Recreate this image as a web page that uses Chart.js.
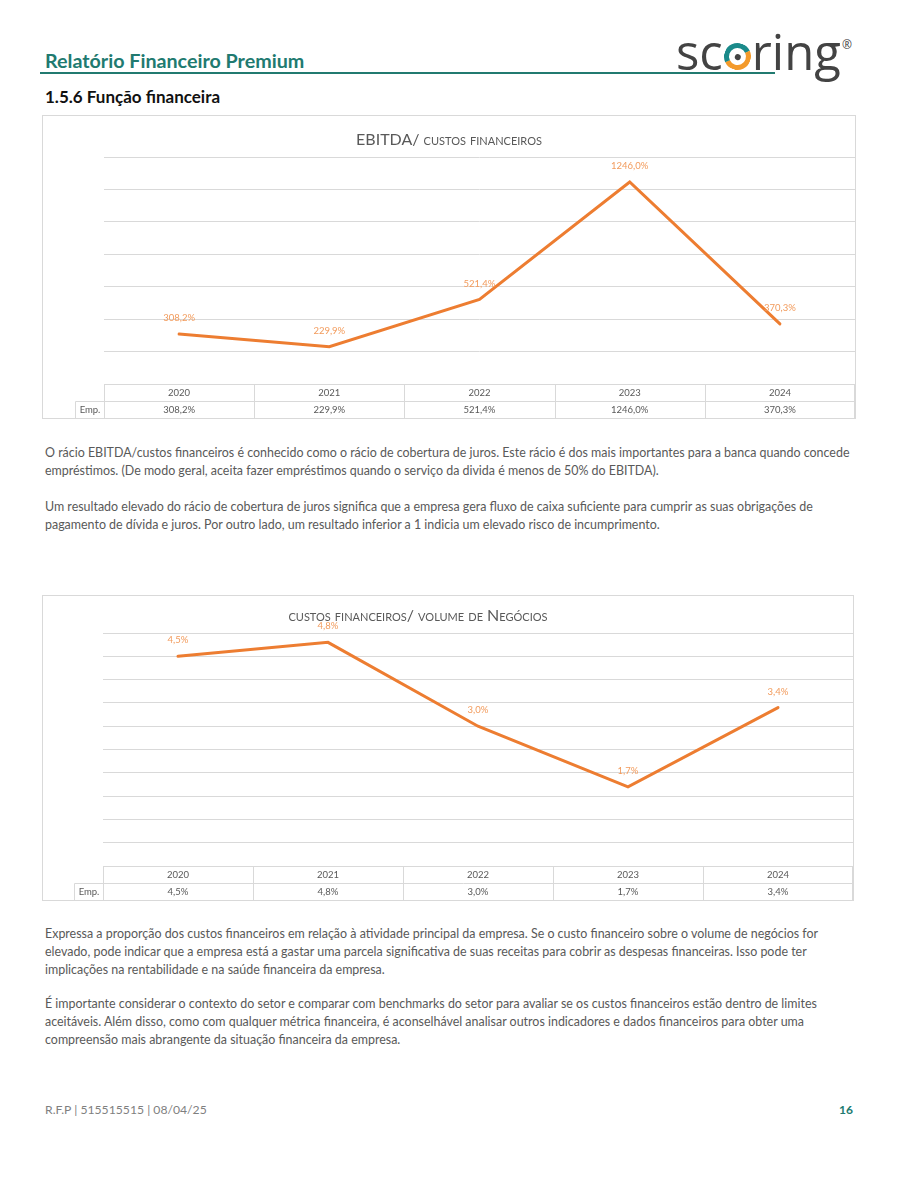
<!DOCTYPE html>
<html lang="pt">
<head>
<meta charset="utf-8">
<title>Relatório Financeiro Premium - 1.5.6 Função financeira</title>
<script src="https://cdn.jsdelivr.net/npm/chart.js@4.4.1/dist/chart.umd.min.js"></script>
<style>
  body{margin:0;background:#fff;font-family:Lato,"Open Sans",sans-serif;}
  .page{position:relative;width:900px;height:1200px;overflow:hidden;}
  .hdr{position:absolute;left:45px;top:51px;font-size:19.7px;line-height:20px;font-weight:700;color:#217a70;white-space:nowrap;}
  .rule{position:absolute;left:40px;top:72px;width:735px;height:2px;background:#217a70;}
  .logo{position:absolute;left:676px;top:25px;font-family:"Open Sans",sans-serif;font-size:49px;line-height:52px;color:#434343;white-space:nowrap;}
  .logo .ring{display:inline-block;position:relative;width:27px;height:27px;box-sizing:border-box;border:5px solid;border-radius:50%;
    border-color:#1a8a8a #f39a2b #f39a2b #1a8a8a;transform:rotate(20deg);margin:0 1px;}
  .logo .ring i{position:absolute;left:50%;top:50%;width:6px;height:6px;margin:-3px 0 0 -3px;border-radius:50%;background:#434343;}
  .logo sup{font-size:12px;position:absolute;top:-6px;right:-11px;}
  .sec{position:absolute;left:45px;top:87px;font-size:17px;line-height:20px;font-weight:700;color:#111;white-space:nowrap;}
  .box{position:absolute;box-sizing:border-box;border:1px solid #d9d9d9;}
  .box .cw{position:absolute;left:0;top:0;right:0;bottom:0;}
  .ctitle{position:absolute;font-size:16px;line-height:20px;color:#595959;font-variant:small-caps;text-align:center;white-space:nowrap;}
  .txt{position:absolute;left:45px;font-size:12.45px;line-height:18px;color:#595959;white-space:nowrap;}
  .foot{position:absolute;left:45px;top:1102px;font-size:12.2px;line-height:16px;color:#7f7f7f;white-space:nowrap;}
  .pg{position:absolute;right:47px;top:1102px;font-size:12px;line-height:16px;font-weight:700;color:#217a70;}
</style>
</head>
<body>
<div class="page">
  <div class="hdr">Relatório Financeiro Premium</div>
  <div class="rule"></div>
  <div class="logo">sc<span class="ring"><i></i></span>ring<sup>®</sup></div>
  <div class="sec">1.5.6 Função financeira</div>

  <div class="box" style="left:42px;top:115px;width:814px;height:304px;">
    <div class="cw"><canvas id="chart-ebitda"></canvas></div>
    <div class="ctitle" style="left:0;right:0;top:13px;">EBITDA/ custos financeiros</div>
  </div>

  <div class="txt" style="top:444px;">O rácio EBITDA/custos financeiros é conhecido como o rácio de cobertura de juros. Este rácio é dos mais importantes para a banca quando concede<br>empréstimos. (De modo geral, aceita fazer empréstimos quando o serviço da divida é menos de 50% do EBITDA).</div>
  <div class="txt" style="top:498px;">Um resultado elevado do rácio de cobertura de juros significa que a empresa gera fluxo de caixa suficiente para cumprir as suas obrigações de<br>pagamento de dívida e juros. Por outro lado, um resultado inferior a 1 indicia um elevado risco de incumprimento.</div>

  <div class="box" style="left:42px;top:595px;width:812px;height:306px;">
    <div class="cw"><canvas id="chart-costs"></canvas></div>
    <div class="ctitle" style="left:0;width:750px;top:9px;">custos financeiros/ volume de Negócios</div>
  </div>

  <div class="txt" style="top:925px;">Expressa a proporção dos custos financeiros em relação à atividade principal da empresa. Se o custo financeiro sobre o volume de negócios for<br>elevado, pode indicar que a empresa está a gastar uma parcela significativa de suas receitas para cobrir as despesas financeiras. Isso pode ter<br>implicações na rentabilidade e na saúde financeira da empresa.</div>
  <div class="txt" style="top:995px;">É importante considerar o contexto do setor e comparar com benchmarks do setor para avaliar se os custos financeiros estão dentro de limites<br>aceitáveis. Além disso, como com qualquer métrica financeira, é aconselhável analisar outros indicadores e dados financeiros para obter uma<br>compreensão mais abrangente da situação financeira da empresa.</div>

  <div class="foot">R.F.P | 515515515 | 08/04/25</div>
  <div class="pg">16</div>
</div>

<script>
const YEARS = ['2020','2021','2022','2023','2024'];
const ROW_LABEL = 'Emp.';
const EBITDA_COVER = [308.2, 229.9, 521.4, 1246.0, 370.3];   // EBITDA / custos financeiros (%)
const COST_TO_SALES = [4.5, 4.8, 3.0, 1.7, 3.4];              // custos financeiros / volume de negócios (%)
const Y_EBITDA = [0, 1400, 200];   // min, max, passo
const Y_COSTS = [0, 5, 0.5];

const LINE_COLOR = '#ED7D31', LABEL_COLOR = '#F29B5C', GRID = '#d9d9d9', TXT = '#595959';
const pct = v => v.toFixed(1).replace('.', ',') + '%';

// rótulos de dados por cima de cada ponto
const pointLabels = {
  id: 'pointLabels',
  afterDatasetsDraw(chart) {
    const {ctx} = chart;
    const vals = chart.data.datasets[0].data;
    ctx.save();
    ctx.font = '9.5px Lato, sans-serif';
    ctx.fillStyle = LABEL_COLOR;
    ctx.textAlign = 'center';
    ctx.textBaseline = 'middle';
    chart.getDatasetMeta(0).data.forEach((pt, i) => ctx.fillText(pct(vals[i]), pt.x, pt.y - 16));
    ctx.restore();
  }
};

// tabela de dados (estilo Excel) por baixo do eixo
const dataTable = {
  id: 'dataTable',
  afterDraw(chart, args, opts) {
    const {ctx, chartArea: a, scales: {x}} = chart;
    const n = chart.data.labels.length, step = (a.right - a.left) / n;
    const top = Math.round(a.bottom) + 0.5, rh = opts.rowH, labL = Math.round(a.left - opts.labelW) + 0.5;
    const L = Math.round(a.left) + 0.5, R = Math.round(a.right) - 0.5;
    ctx.save();
    ctx.strokeStyle = GRID; ctx.lineWidth = 1;
    ctx.beginPath();
    ctx.moveTo(L, top); ctx.lineTo(R, top);
    ctx.moveTo(labL, top + rh); ctx.lineTo(R, top + rh);
    ctx.moveTo(labL, top + 2 * rh); ctx.lineTo(R, top + 2 * rh);
    ctx.moveTo(labL, top + rh); ctx.lineTo(labL, top + 2 * rh);
    for (let i = 0; i <= n; i++) {
      const xx = i === n ? R : Math.round(a.left + i * step) + 0.5;
      ctx.moveTo(xx, top); ctx.lineTo(xx, top + 2 * rh);
    }
    ctx.stroke();
    ctx.font = '9.5px Lato, sans-serif';
    ctx.fillStyle = TXT; ctx.textAlign = 'center'; ctx.textBaseline = 'middle';
    const vals = chart.data.datasets[0].data;
    chart.data.labels.forEach((lab, i) => {
      const cx = x.getPixelForValue(i);
      ctx.fillText(lab, cx, top + rh / 2);
      ctx.fillText(pct(vals[i]), cx, top + rh * 1.5);
    });
    ctx.fillText(chart.data.datasets[0].label, (labL + L) / 2, top + rh * 1.5);
    ctx.restore();
  }
};

function lineChart(id, values, yr, pad) {
  return new Chart(document.getElementById(id), {
    type: 'line',
    data: {labels: YEARS, datasets: [{label: ROW_LABEL, data: values, borderColor: LINE_COLOR, borderWidth: 3,
      pointRadius: 0, tension: 0, fill: false, borderCapStyle: 'round', borderJoinStyle: 'miter'}]},
    options: {
      responsive: true, maintainAspectRatio: false, animation: false,
      layout: {padding: pad},
      plugins: {legend: {display: false}, tooltip: {enabled: false}, dataTable: {rowH: 17, labelW: 29}},
      scales: {
        x: {display: false, offset: true},
        y: {min: yr[0], max: yr[1], ticks: {display: false, stepSize: yr[2]},
            grid: {color: GRID, drawTicks: false}, border: {display: false}}
      }
    },
    plugins: [pointLabels, dataTable]
  });
}

lineChart('chart-ebitda', EBITDA_COVER, Y_EBITDA, {left: 61, right: 0, top: 41, bottom: 34});
lineChart('chart-costs', COST_TO_SALES, Y_COSTS, {left: 60, right: 0, top: 37, bottom: 34});
</script>
</body>
</html>
